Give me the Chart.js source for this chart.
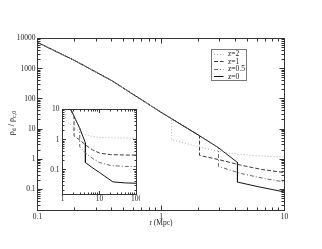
<!DOCTYPE html>
<html><head><meta charset="utf-8">
<script src="https://cdn.jsdelivr.net/npm/chart.js@4.4.1/dist/chart.umd.min.js"></script>
<style>
html,body{margin:0;padding:0;background:#fff;}
#wrap{position:relative;width:322px;height:249px;overflow:hidden;}
#main{position:absolute;left:0;top:0;}
#inset{position:absolute;left:40px;top:104px;}
</style></head><body>
<div id="wrap"><canvas id="main" width="322" height="249"></canvas><canvas id="inset" width="100" height="104"></canvas></div>
<script>
// ---------- data ----------
const seriesLabels = ['z=2', 'z=1', 'z=0.5', 'z=0'];

const r_z2   = [0.1, 0.2, 0.4, 1, 1.22, 1.22, 1.6, 2.2, 3.66, 6, 10, 20, 50, 100];
const rho_z2 = [7400, 1860, 400, 36, 22, 4.5, 3.3, 2.35, 1.55, 1.3, 1.18, 1.15, 1.13, 1.12];

const r_z1   = [0.1, 0.2, 0.4, 1, 2.05, 2.05, 3, 4.4, 6.5, 10, 20, 50, 100];
const rho_z1 = [7400, 1860, 400, 36, 6.0, 1.34, 0.95, 0.64, 0.46, 0.36, 0.32, 0.31, 0.31];

const r_z05   = [0.1, 0.2, 0.4, 1, 2.05, 2.92, 2.92, 4.4, 6.5, 10, 20, 50, 100];
const rho_z05 = [7400, 1860, 400, 36, 6.0, 2.4, 0.58, 0.34, 0.24, 0.175, 0.14, 0.13, 0.13];

const r_z0   = [0.1, 0.2, 0.4, 1, 2.05, 2.92, 4.16, 4.16, 6, 10, 23, 50, 100];
const rho_z0 = [7400, 1860, 400, 36, 6.0, 2.4, 0.78, 0.175, 0.125, 0.082, 0.04, 0.037, 0.036];

const mainXTicks = [0.1, 1, 10];
const mainXTickLabels = ['0.1', '1', '10'];
const mainYTicks = [0.1, 1, 10, 100, 1000, 10000];
const mainYTickLabels = ['0.1', '1', '10', '100', '1000', '10000'];
const insetXTicks = [1, 10, 100];
const insetXTickLabels = ['1', '10', '100'];
const insetYTicks = [0.1, 1, 10];
const insetYTickLabels = ['0.1', '1', '10'];

const xTitle = 'r (Mpc)';

// ---------- styles ----------
const colors = ['#b0b0b0', '#3a3a3a', '#666666', '#141414'];
const dashes = [[1, 2], [4, 2], [4, 2, 1, 2], []];
const FONT = '"Liberation Serif", "DejaVu Serif", serif';

function pts(r, v) { return r.map((x, i) => ({x: x, y: v[i]})); }
const allR = [r_z2, r_z1, r_z05, r_z0];
const allV = [rho_z2, rho_z1, rho_z05, rho_z0];

function makeDatasets() {
  return seriesLabels.map((lab, i) => ({
    label: lab,
    data: pts(allR[i], allV[i]),
    showLine: true,
    borderColor: colors[i],
    borderWidth: 1,
    borderDash: dashes[i],
    pointRadius: 0,
    fill: false,
    tension: 0
  }));
}

function snap(p) { return Math.round(p - 0.5) + 0.5; }

function drawLogTicks(ctx, scale, a, horizontal, majorLen, minorLen) {
  const lo = Math.floor(Math.log10(scale.min)), hi = Math.ceil(Math.log10(scale.max));
  for (let d = lo; d <= hi; d++) {
    for (let m = 1; m <= 9; m++) {
      const v = m * Math.pow(10, d);
      if (v < scale.min * 0.999 || v > scale.max * 1.001) continue;
      const len = m === 1 ? majorLen : minorLen;
      const p = snap(scale.getPixelForValue(v));
      ctx.beginPath();
      if (horizontal) {
        ctx.moveTo(p, a.bottom); ctx.lineTo(p, a.bottom - len);
        ctx.moveTo(p, a.top); ctx.lineTo(p, a.top + len);
      } else {
        ctx.moveTo(a.left, p); ctx.lineTo(a.left + len, p);
        ctx.moveTo(a.right, p); ctx.lineTo(a.right - len, p);
      }
      ctx.stroke();
    }
  }
}

function framePlugin(opts) {
  return {
    id: 'frame_' + opts.name,
    beforeDatasetsDraw(chart) {
      if (!opts.fillWhite) return;
      const {ctx, chartArea: a} = chart;
      ctx.save(); ctx.fillStyle = '#fff';
      ctx.fillRect(a.left, a.top, a.right - a.left, a.bottom - a.top);
      ctx.restore();
    },
    afterDraw(chart) {
      const {ctx, chartArea: a, scales: {x, y}} = chart;
      ctx.save();
      ctx.strokeStyle = '#333'; ctx.lineWidth = 1; ctx.setLineDash([]);
      ctx.strokeRect(a.left, a.top, a.right - a.left, a.bottom - a.top);
      drawLogTicks(ctx, x, a, true, opts.major, opts.minor);
      drawLogTicks(ctx, y, a, false, opts.major, opts.minor);
      ctx.fillStyle = '#222';
      ctx.font = opts.fontSize + 'px ' + FONT;
      ctx.textAlign = 'right'; ctx.textBaseline = 'middle';
      opts.yTicks.forEach((v, i) => ctx.fillText(opts.yLabels[i], a.left - opts.yPad, y.getPixelForValue(v)));
      ctx.textAlign = 'center';
      opts.xTicks.forEach((v, i) => ctx.fillText(opts.xLabels[i], x.getPixelForValue(v), a.bottom + opts.xPad));
      if (opts.titles) {
        ctx.fillText(xTitle, (a.left + a.right) / 2, 223.5);
        // y title with subscripts
        const segs = [['\u03C1', false], ['d', true], [' / \u03C1', false], ['c,0', true]];
        const big = '8px ' + FONT, small = '6px ' + FONT;
        let w = 0;
        segs.forEach(s => { ctx.font = s[1] ? small : big; w += ctx.measureText(s[0]).width; });
        ctx.translate(11, 123);
        ctx.rotate(-Math.PI / 2);
        ctx.textAlign = 'left'; ctx.textBaseline = 'alphabetic';
        let cx = -w / 2;
        segs.forEach(s => {
          ctx.font = s[1] ? small : big;
          ctx.fillText(s[0], cx, s[1] ? 4.5 : 2.5);
          cx += ctx.measureText(s[0]).width;
        });
        ctx.setTransform(1, 0, 0, 1, 0, 0);
      }
      if (opts.legend) {
        const bx = 211.5, by = 49.5, bw = 35, bh = 31;
        ctx.strokeStyle = '#777';
        ctx.strokeRect(bx, by, bw, bh);
        ctx.font = '7.5px ' + FONT;
        ctx.textAlign = 'left'; ctx.textBaseline = 'middle';
        chart.data.datasets.forEach((ds, i) => {
          const yy = by + 4.5 + i * 7.5;
          ctx.strokeStyle = ds.borderColor; ctx.setLineDash(ds.borderDash);
          ctx.beginPath(); ctx.moveTo(bx + 2.5, snap(yy)); ctx.lineTo(bx + 12, snap(yy)); ctx.stroke();
          ctx.setLineDash([]);
          ctx.fillStyle = '#222';
          ctx.fillText(ds.label, bx + 16.5, yy + 0.5);
        });
      }
      ctx.restore();
    }
  };
}

Chart.defaults.font.family = FONT;

new Chart(document.getElementById('main'), {
  type: 'scatter',
  data: {datasets: makeDatasets()},
  options: {
    responsive: false, animation: false, devicePixelRatio: 1,
    layout: {padding: {left: 37.5, top: 38.5, right: 37.5, bottom: 38.5}},
    plugins: {legend: {display: false}, tooltip: {enabled: false}},
    scales: {
      x: {type: 'logarithmic', min: 0.1, max: 10, display: false},
      y: {type: 'logarithmic', min: 0.02, max: 10000, display: false}
    }
  },
  plugins: [framePlugin({name: 'main', major: 5, minor: 3, fontSize: 7.5, yPad: 2, xPad: 6.5,
    xTicks: mainXTicks, xLabels: mainXTickLabels, yTicks: mainYTicks, yLabels: mainYTickLabels,
    titles: true, legend: true, fillWhite: false})]
});

new Chart(document.getElementById('inset'), {
  type: 'scatter',
  data: {datasets: makeDatasets()},
  options: {
    responsive: false, animation: false, devicePixelRatio: 1,
    layout: {padding: {left: 22.5, top: 5.5, right: 3.5, bottom: 13.5}},
    plugins: {legend: {display: false}, tooltip: {enabled: false}},
    scales: {
      x: {type: 'logarithmic', min: 1, max: 100, display: false},
      y: {type: 'logarithmic', min: 0.0153, max: 10, display: false}
    }
  },
  plugins: [framePlugin({name: 'inset', major: 3.5, minor: 2, fontSize: 7.5, yPad: 3, xPad: 4.5,
    xTicks: insetXTicks, xLabels: insetXTickLabels, yTicks: insetYTicks, yLabels: insetYTickLabels,
    titles: false, legend: false, fillWhite: true})]
});
</script>
</body></html>
